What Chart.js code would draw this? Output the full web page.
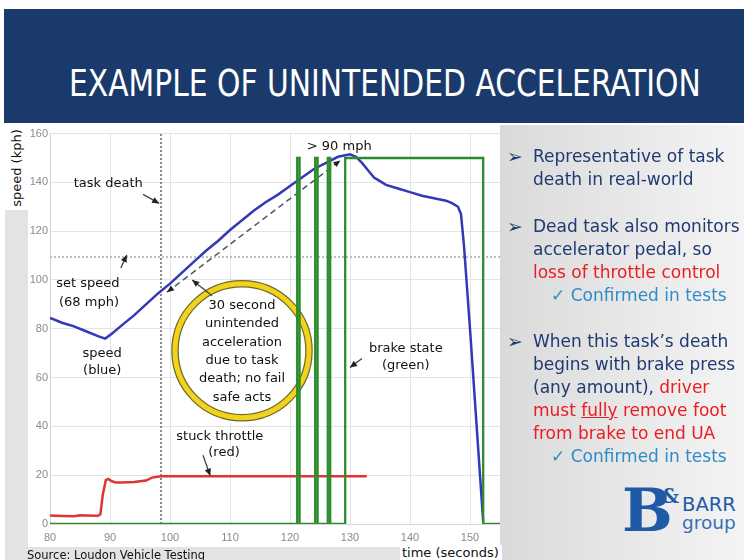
<!DOCTYPE html>
<html>
<head>
<meta charset="utf-8">
<script src="https://cdn.jsdelivr.net/npm/chart.js@4.4.0/dist/chart.umd.min.js"></script>
<style>
  html, body { margin: 0; padding: 0; background: #fff; }
  #slide { position: relative; width: 744px; height: 560px; overflow: hidden; background: #fff; font-family: "DejaVu Sans", sans-serif; }
  #header { position: absolute; left: 4px; top: 9px; width: 740px; height: 114px; background: #1b3a6c; }
  #title { position: absolute; left: 65px; top: 53px; color: #fff; font-family: "DejaVu Sans Condensed", "DejaVu Sans", sans-serif; font-size: 38px; line-height: 42px; white-space: nowrap; transform-origin: 0 0; }
  #leftStrip { position: absolute; left: 5px; top: 210px; width: 23px; height: 350px; background: #e3e3e3; }
  #bottomStrip { position: absolute; left: 5px; top: 547px; width: 495px; height: 13px; background: #e3e3e3; }
  #plotBg { position: absolute; left: 28px; top: 125px; width: 472px; height: 422px; background: #fff; }
  #ylab { position: absolute; left: 5px; top: 125px; width: 23px; height: 85px; background: #fff; }
  #ylab span { position: absolute; left: 11px; top: 43px; transform: translate(-50%, -50%) rotate(-90deg); font-size: 13px; white-space: nowrap; color: #111; }
  #source { position: absolute; left: 27px; top: 548px; font-size: 11.5px; color: #111; white-space: nowrap; }
  #xlab { position: absolute; left: 400px; top: 545px; width: 100px; height: 15px; background: #fff; font-size: 13px; color: #111; line-height: 16px; padding-left: 2px; }
  #panel { position: absolute; left: 500px; top: 125px; width: 244px; height: 435px; background: linear-gradient(to right, #dadada, #f4f4f4); }
  canvas { position: absolute; left: 0; top: 125px; }
  .bl { position: absolute; left: 500px; width: 244px; font-size: 17px; color: #1f3a73; }
  .ln { position: relative; padding-left: 33px; line-height: 23px; height: 23px; white-space: nowrap; }
  .bu { position: absolute; left: 7px; top: 0; font-size: 19px; font-weight: bold; }
  .ck { padding-left: 51px; color: #2f8cc6; }
  .red { color: #ec1c24; }
  #logoB { position: absolute; left: 622px; top: 478px; font-family: "DejaVu Serif", serif; font-weight: bold; font-size: 60px; line-height: 64px; color: #1f5aa6; }
  #logoAmp { position: absolute; left: 661px; top: 484px; font-family: "DejaVu Serif", serif; font-weight: bold; font-size: 20px; color: #1f5aa6; }
  #logoT1 { position: absolute; left: 682px; top: 493px; font-size: 19.5px; color: #1f5aa6; }
  #logoT2 { position: absolute; left: 682px; top: 512px; font-size: 18.5px; color: #3a6fb3; }
</style>
</head>
<body>
<div id="slide">
  <div id="header"><div id="title">EXAMPLE OF UNINTENDED ACCELERATION</div></div>
  <div id="panel"></div>
  <div id="leftStrip"></div>
  <div id="bottomStrip"></div>
  <div id="plotBg"></div>
  <div id="ylab"><span>speed (kph)</span></div>
  <canvas id="chart" width="510" height="435"></canvas>
  <div id="source">Source: Loudon Vehicle Testing</div>
  <div id="xlab">time (seconds)</div>

  <div class="bl" style="top:145px">
    <div class="ln"><span class="bu">➢</span>Representative of task</div>
    <div class="ln">death in real-world</div>
  </div>
  <div class="bl" style="top:215px">
    <div class="ln"><span class="bu">➢</span>Dead task also monitors</div>
    <div class="ln">accelerator pedal, so</div>
    <div class="ln red">loss of throttle control</div>
    <div class="ln ck">✓ Confirmed in tests</div>
  </div>
  <div class="bl" style="top:330px">
    <div class="ln"><span class="bu">➢</span>When this task’s death</div>
    <div class="ln">begins with brake press</div>
    <div class="ln">(any amount), <span class="red">driver</span></div>
    <div class="ln red">must <u>fully</u> remove foot</div>
    <div class="ln red">from brake to end UA</div>
    <div class="ln ck">✓ Confirmed in tests</div>
  </div>

  <div id="logoB">B</div>
  <div id="logoAmp">&amp;</div>
  <div id="logoT1">BARR</div>
  <div id="logoT2">group</div>
</div>

<script>
// speed trace (blue), kph vs seconds
const speedTime = [80, 82, 84, 86, 88, 89.2, 90.3, 92, 94, 96, 98, 100, 102, 104, 106, 108, 110, 112, 114, 116, 118, 120, 122, 124, 126, 128, 130, 131, 132, 133, 134, 135, 136, 138, 140, 142, 144, 146, 147, 148, 148.5, 149, 150, 151, 152.2];
const speedKph  = [84.5, 82.5, 81, 79, 77, 76, 78, 81.5, 85.5, 90, 94.5, 98.5, 103, 107.5, 112, 116, 120.5, 124.5, 128.5, 132, 135, 138.5, 142, 145.5, 148, 150.5, 151.5, 150.5, 148, 145, 142, 140.5, 139, 137.5, 136, 134.5, 133.5, 132.5, 131.5, 130, 127, 114, 80, 44, 1];

// stuck throttle (red)
const throttleTime = [80, 82, 84, 85, 86, 88, 88.4, 88.8, 89.3, 89.7, 90.3, 91, 92, 94, 96, 97, 98.5, 132.8];
const throttleVal  = [3.5, 3.3, 3.2, 3.6, 3.5, 3.4, 4, 12, 18, 18.5, 17.5, 17, 17, 17.2, 17.8, 19, 19.6, 19.6];

// brake state (green)
const brakeTime  = [80, 121.2, 121.2, 121.6, 121.6, 124.2, 124.2, 124.6, 124.6, 126.3, 126.3, 126.7, 126.7, 129.2, 129.2, 152.2, 152.2, 155];
const brakeState = [0, 0, 150, 150, 0, 0, 150, 150, 0, 0, 150, 150, 0, 0, 150, 150, 0, 0];

const setSpeedKph = 109.4;   // 68 mph
const taskDeathTime = 98.5;
const uaArrowTime = [99.5, 128.4];
const uaArrowKph  = [95, 149];

const xTicks = [80, 90, 100, 110, 120, 130, 140, 150];
const yTicks = [0, 20, 40, 60, 80, 100, 120, 140, 160];

const pts = (xs, ys) => xs.map((x, i) => ({ x: x, y: ys[i] }));

const labels = [
  { t: 89.7, v: 139.6, text: 'task death' },
  { t: 86.3, v: 98.4, text: 'set speed' },
  { t: 86.5, v: 90.6, text: '(68 mph)' },
  { t: 88.7, v: 69.8, text: 'speed' },
  { t: 88.7, v: 62.9, text: '(blue)' },
  { t: 108.3, v: 35.9, text: 'stuck throttle' },
  { t: 109.0, v: 29.4, text: '(red)' },
  { t: 128.2, v: 154.7, text: '> 90 mph' },
  { t: 139.3, v: 71.8, text: 'brake state' },
  { t: 139.3, v: 64.9, text: '(green)' }
];
const arrows = [
  { from: [95.5, 135.1], to: [98.2, 131.4] },
  { from: [91.8, 104.9], to: [92.8, 110.2] },
  { from: [107, 93.5], to: [103.7, 100] },
  { from: [105.5, 28.2], to: [106.7, 19.8] },
  { from: [132, 67.8], to: [130, 64.1] }
];
const circleAt = [112, 71];
const circleText = ['30 second', 'unintended', 'acceleration', 'due to task', 'death; no fail', 'safe acts'];

function arrowHead(ctx, x0, y0, x1, y1, len, half) {
  const a = Math.atan2(y1 - y0, x1 - x0);
  ctx.beginPath();
  ctx.moveTo(x1, y1);
  ctx.lineTo(x1 - len * Math.cos(a) + half * Math.sin(a), y1 - len * Math.sin(a) - half * Math.cos(a));
  ctx.lineTo(x1 - len * Math.cos(a) - half * Math.sin(a), y1 - len * Math.sin(a) + half * Math.cos(a));
  ctx.closePath();
  ctx.fill();
}

const notes = {
  id: 'notes',
  beforeDatasetsDraw(chart) {
    const { ctx, scales: { x, y } } = chart;
    const cx = x.getPixelForValue(circleAt[0]), cy = y.getPixelForValue(circleAt[1]);
    ctx.save();
    ctx.beginPath();
    ctx.arc(cx, cy, 67, 0, Math.PI * 2);
    ctx.fillStyle = '#fff';
    ctx.fill();
    ctx.lineWidth = 7.5; ctx.strokeStyle = '#6e6a2a'; ctx.stroke();
    ctx.lineWidth = 5; ctx.strokeStyle = '#f2d21c'; ctx.stroke();
    ctx.restore();
  },
  afterDraw(chart) {
    const { ctx, scales: { x, y } } = chart;
    ctx.save();
    ctx.font = '13px "DejaVu Sans"';
    ctx.fillStyle = '#111';
    ctx.textAlign = 'center';
    ctx.textBaseline = 'middle';
    labels.forEach(l => ctx.fillText(l.text, x.getPixelForValue(l.t), y.getPixelForValue(l.v)));

    const cx = x.getPixelForValue(circleAt[0]), cy = y.getPixelForValue(circleAt[1]);
    circleText.forEach((s, i) => ctx.fillText(s, cx, cy - 45 + i * 18.3));

    // pointer arrows
    ctx.strokeStyle = '#444';
    ctx.fillStyle = '#222';
    ctx.lineWidth = 1.3;
    arrows.forEach(a => {
      const x0 = x.getPixelForValue(a.from[0]), y0 = y.getPixelForValue(a.from[1]);
      const x1 = x.getPixelForValue(a.to[0]), y1 = y.getPixelForValue(a.to[1]);
      ctx.beginPath(); ctx.moveTo(x0, y0); ctx.lineTo(x1, y1); ctx.stroke();
      arrowHead(ctx, x0, y0, x1, y1, 7, 3.2);
    });

    // heads on the 30 s dashed arrow
    const ax0 = x.getPixelForValue(uaArrowTime[0]), ay0 = y.getPixelForValue(uaArrowKph[0]);
    const ax1 = x.getPixelForValue(uaArrowTime[1]), ay1 = y.getPixelForValue(uaArrowKph[1]);
    arrowHead(ctx, ax1, ay1, ax0, ay0, 7, 3);
    arrowHead(ctx, ax0, ay0, ax1, ay1, 7, 3);
    ctx.restore();
  }
};

new Chart(document.getElementById('chart'), {
  type: 'line',
  data: {
    datasets: [
      { data: pts(brakeTime, brakeState), borderColor: '#2a8c2a', borderWidth: 2.3 },
      { data: pts(speedTime, speedKph), borderColor: '#3439b8', borderWidth: 2.5 },
      { data: pts(throttleTime, throttleVal), borderColor: '#df3434', borderWidth: 2.5 },
      { data: pts(uaArrowTime, uaArrowKph), borderColor: '#555', borderWidth: 1.5, borderDash: [6, 4] },
      { data: pts([taskDeathTime, taskDeathTime], [0, 160]), borderColor: '#666', borderWidth: 1.5, borderDash: [2, 2] },
      { data: pts([80, 155], [setSpeedKph, setSpeedKph]), borderColor: '#bdbdbd', borderWidth: 2, borderDash: [2, 2] }
    ]
  },
  options: {
    responsive: false,
    animation: false,
    layout: { padding: { top: 7, right: 10, left: 0, bottom: 0 } },
    elements: { point: { radius: 0 }, line: { tension: 0, fill: false } },
    plugins: { legend: { display: false }, tooltip: { enabled: false } },
    scales: {
      x: {
        type: 'linear', min: 80, max: 155,
        afterBuildTicks: s => { s.ticks = xTicks.map(v => ({ value: v })); },
        afterFit: s => { s.height = 36; },
        grid: { color: '#e4e4e4', drawTicks: false },
        border: { color: '#d4d4d4' },
        ticks: { padding: 7, color: '#8a8a8a', font: { family: 'Liberation Sans', size: 11 } }
      },
      y: {
        min: 0, max: 160,
        afterBuildTicks: s => { s.ticks = yTicks.map(v => ({ value: v })); },
        afterFit: s => { s.width = 50; },
        grid: { color: '#e4e4e4', drawTicks: false },
        border: { color: '#d4d4d4' },
        ticks: { padding: 2, color: '#8a8a8a', font: { family: 'Liberation Sans', size: 11 } }
      }
    }
  },
  plugins: [notes]
});

// squeeze the title to the slide's condensed width
const title = document.getElementById('title');
title.style.transform = 'scaleX(' + (632 / title.offsetWidth) + ')';
</script>
</body>
</html>
